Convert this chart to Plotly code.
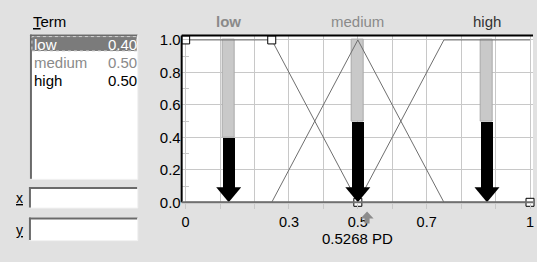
import plotly.graph_objects as go

# ---------------- data ----------------
TERMS = ["low", "medium", "high"]
TERM_VALUES = [0.40, 0.50, 0.50]          # degree of each term
TERM_POS = [0.125, 0.5, 0.875]           # position of term bars on the x axis
LOW_X = [0, 0.25, 0.5, 1]
LOW_Y = [1, 1, 0, 0]
MED_X = [0, 0.25, 0.5, 0.75, 1]
MED_Y = [0, 0, 1, 0, 0]
HIGH_X = [0, 0.5, 0.75, 1]
HIGH_Y = [0, 0, 1, 1]
PD_VALUE = 0.5268
X_TICKS = [0, 0.1, 0.2, 0.3, 0.4, 0.5, 0.6, 0.7, 0.8, 0.9, 1.0]
X_TICK_TEXT = ["0", "", "", "0.3", "", "0.5", "", "0.7", "", "", "1"]
Y_TICKS = [0, 0.2, 0.4, 0.6, 0.8, 1.0]
Y_TICK_TEXT = ["0.0", "0.2", "0.4", "0.6", "0.8", "1.0"]
LIST_VALUES = ["0.40", "0.50", "0.50"]

# ---------------- geometry (pixels) ----------------
W, H = 537, 262
PL, PR, PT, PB = 182, 534, 33, 208      # plot area frame
X0PX, XSCALE = 186, 345.0                # pixel of x=0, px per unit
Y0PX, YSCALE = 207, 169.5                # pixel of y=0, px per unit
BAR_W_PX = 12
HEAD_W_PX, HEAD_H_PX = 25, 15

def fx(p):
    return p / W

def fy(p):
    return 1 - p / H

BG = "#e1e1e1"
GRID = "#c8c8c8"
LINE = "#6e6e6e"
FONT = "Liberation Sans, Arial, sans-serif"

bar_w = BAR_W_PX / XSCALE
head_h = HEAD_H_PX / YSCALE

fig = go.Figure()

# grey upper part of the term bars
fig.add_trace(go.Bar(
    x=TERM_POS, y=[1 - v for v in TERM_VALUES], base=TERM_VALUES, width=bar_w,
    marker=dict(color="#c9c9c9", line=dict(color="#a9a9a9", width=1)),
    hoverinfo="skip", showlegend=False))
# black part of the term bars
fig.add_trace(go.Bar(
    x=TERM_POS, y=[v - head_h for v in TERM_VALUES], base=[head_h] * len(TERM_VALUES),
    width=bar_w, marker=dict(color="black", line=dict(width=0)),
    hoverinfo="skip", showlegend=False))

# membership functions
for xs, ys in [(LOW_X, LOW_Y), (MED_X, MED_Y), (HIGH_X, HIGH_Y)]:
    fig.add_trace(go.Scatter(x=xs, y=ys, mode="lines",
                             line=dict(color=LINE, width=1),
                             hoverinfo="skip", showlegend=False))

# definition points of selected term
fig.add_trace(go.Scatter(x=LOW_X, y=LOW_Y, mode="markers", cliponaxis=False,
                         marker=dict(symbol="square", size=8, color="white",
                                     line=dict(color="black", width=1)),
                         hoverinfo="skip", showlegend=False))

shapes = []
# arrow heads of term bars
for p in TERM_POS:
    hw = HEAD_W_PX / 2
    shapes.append(dict(type="path", xref="x", yref="y", xsizemode="pixel", ysizemode="pixel",
                       xanchor=p, yanchor=0,
                       path=f"M{-hw},{HEAD_H_PX} L{hw},{HEAD_H_PX} L0,0 Z",
                       fillcolor="black", line=dict(width=0), layer="above"))

# plot frame (sunken look)
shapes.append(dict(type="line", xref="paper", yref="paper", x0=fx(PL), x1=fx(PR),
                   y0=fy(PT), y1=fy(PT), line=dict(color="black", width=2)))
shapes.append(dict(type="line", xref="paper", yref="paper", x0=fx(PL), x1=fx(PL),
                   y0=fy(PT), y1=fy(PB - 1), line=dict(color="black", width=2)))
shapes.append(dict(type="line", xref="paper", yref="paper", x0=fx(PL), x1=fx(PR),
                   y0=fy(Y0PX), y1=fy(Y0PX), line=dict(color="#707070", width=2)))

# up arrow marking the crisp value
shapes.append(dict(type="path", xref="x", yref="paper", xsizemode="pixel", ysizemode="pixel",
                   xanchor=PD_VALUE, yanchor=fy(229),
                   path="M-2.5,0 L2.5,0 L2.5,5 L6.5,5 L0,12 L-6.5,5 L-2.5,5 Z",
                   fillcolor="#8c8c8c", line=dict(width=0), layer="above"))

# left panel: list box and edit boxes
def sunken_box(x0, y0, x1, y1):
    out = [dict(type="rect", xref="paper", yref="paper", x0=fx(x0), x1=fx(x1),
                y0=fy(y1), y1=fy(y0), fillcolor="white", line=dict(width=0))]
    out.append(dict(type="line", xref="paper", yref="paper", x0=fx(x0), x1=fx(x1),
                    y0=fy(y0 + 1), y1=fy(y0 + 1), line=dict(color="#6a6a6a", width=2)))
    out.append(dict(type="line", xref="paper", yref="paper", x0=fx(x0 + 1), x1=fx(x0 + 1),
                    y0=fy(y0), y1=fy(y1), line=dict(color="#6a6a6a", width=2)))
    out.append(dict(type="line", xref="paper", yref="paper", x0=fx(x0), x1=fx(x1),
                    y0=fy(y1), y1=fy(y1), line=dict(color="#f2f2f2", width=1)))
    out.append(dict(type="line", xref="paper", yref="paper", x0=fx(x1), x1=fx(x1),
                    y0=fy(y0), y1=fy(y1), line=dict(color="#f2f2f2", width=1)))
    return out

shapes += sunken_box(30, 32, 138, 183)
shapes += sunken_box(29, 191, 138, 213)
shapes += sunken_box(29, 223, 138, 247)
# selected row
shapes.append(dict(type="rect", xref="paper", yref="paper", x0=fx(32), x1=fx(137),
                   y0=fy(49), y1=fy(34), fillcolor="#7b7b7b",
                   line=dict(color="#d0d0d0", width=1, dash="dot")))

ann = []
def txt(text, x, y, color="black", xanchor="left", size=14, xref="paper"):
    ann.append(dict(text=text, x=x, y=y, xref=xref, yref="paper", showarrow=False,
                    xanchor=xanchor, yanchor="middle",
                    font=dict(family=FONT, size=size, color=color)))

txt("<u>T</u>erm", fx(31), fy(18), size=15)
row_colors = ["white", "#8a8a8a", "black"]
ROW_Y = [42.5, 61.5, 79.5]
for t, v, c, yy in zip(TERMS, LIST_VALUES, row_colors, ROW_Y):
    txt(t, fx(32), fy(yy), c, size=15)
    txt(v, fx(139), fy(yy), c, xanchor="right", size=15)
txt("<u>x</u>", fx(14), fy(203), size=14)
txt("<u>y</u>", fx(14), fy(236), size=14)

head_colors = ["#8a8a8a", "#8a8a8a", "#333333"]
for t, p, c in zip(TERMS, TERM_POS, head_colors):
    label = f"<b>{t}</b>" if t == "low" else t
    txt(label, p, fy(18), c, xanchor="center", xref="x", size=15)

txt(f"{PD_VALUE:.4f} PD", fx((PL + PR) / 2), fy(245), xanchor="center", size=15)

fig.update_layout(
    width=W, height=H, margin=dict(l=0, r=0, t=0, b=0),
    paper_bgcolor=BG, plot_bgcolor="white",
    barmode="overlay", bargap=0,
    shapes=shapes, annotations=ann,
    font=dict(family=FONT, size=15, color="black"),
    xaxis=dict(domain=[fx(PL), fx(PR)],
               range=[(PL - X0PX) / XSCALE, (PR - X0PX) / XSCALE],
               tickvals=X_TICKS, ticktext=X_TICK_TEXT,
               showgrid=True, gridcolor=GRID, gridwidth=1, zeroline=False,
               ticks="outside", ticklen=5, tickcolor=GRID, showline=False,
               ticklabelstandoff=0,
               tickfont=dict(family=FONT, size=14.5, color="black"), fixedrange=True),
    yaxis=dict(domain=[fy(PB), fy(PT)],
               range=[(Y0PX - PB) / YSCALE, (Y0PX - PT) / YSCALE],
               tickvals=Y_TICKS, ticktext=Y_TICK_TEXT,
               showgrid=True, gridcolor=GRID, gridwidth=1, zeroline=False,
               ticks="", showline=False,
               minor=dict(dtick=0.1, tick0=0, ticks="inside", ticklen=7, tickcolor=GRID, showgrid=False),
               tickfont=dict(family=FONT, size=15, color="black"), fixedrange=True),
)

fig.write_html("out.html", config={"displayModeBar": False},
               post_script="document.body.style.margin='0';document.body.style.overflow='hidden';")
